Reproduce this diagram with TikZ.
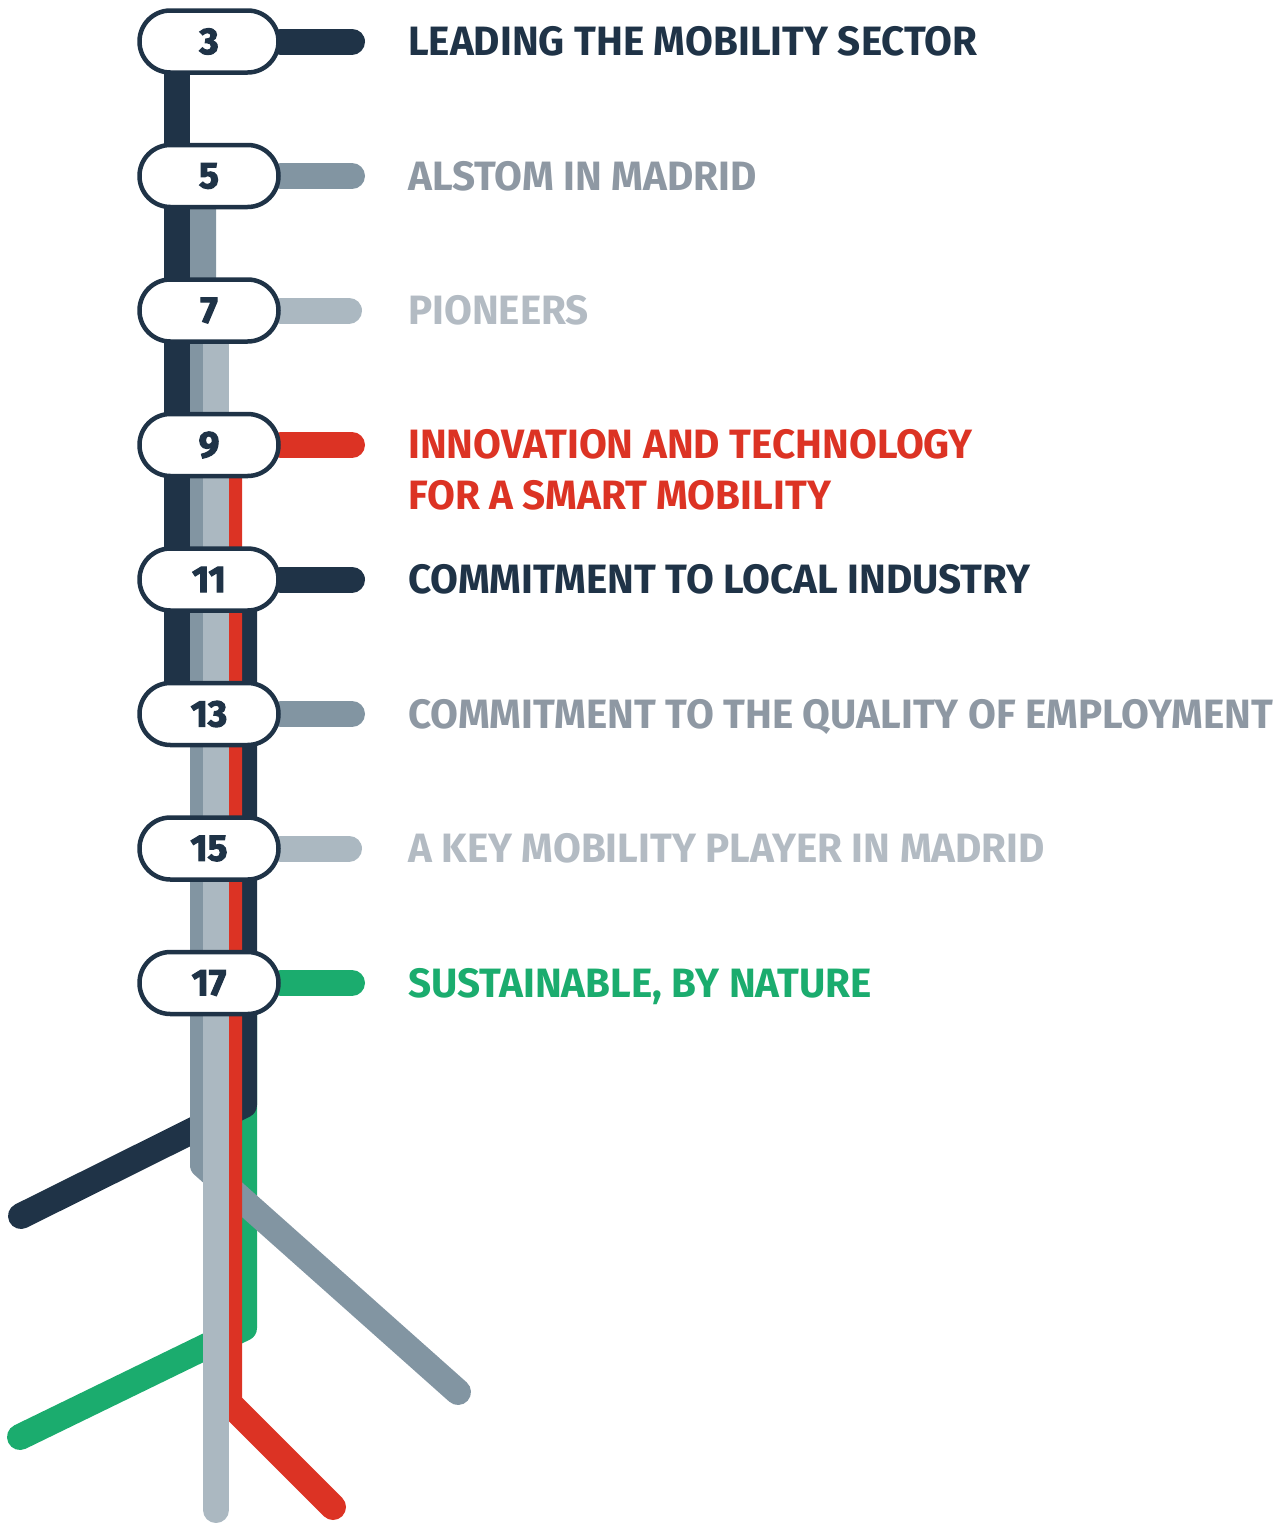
\documentclass[tikz,border=0pt]{standalone}
\usepackage{fontspec}
\newfontfamily\lblfont[FakeStretch=0.985]{Fira Sans}
\newfontfamily\numfont[BoldFeatures={FakeBold=3}]{Fira Sans}
\definecolor{amNavy}{HTML}{1F3347}
\definecolor{amSteel}{HTML}{8295A2}
\definecolor{amSilver}{HTML}{ABB8C1}
\definecolor{amRed}{HTML}{DC3324}
\definecolor{amGreen}{HTML}{1BAC6E}
\definecolor{amSteelTxt}{HTML}{8E98A3}
\definecolor{amSilverTxt}{HTML}{B3BBC3}
\usetikzlibrary{backgrounds}

\tikzset{
  stationpill/.style={draw=amNavy, fill=white, line width=4.5pt, rounded corners=30.9pt,
    minimum width=139pt, minimum height=62pt, inner sep=0pt, text=amNavy,
    font=\numfont\bfseries\fontsize{37}{37}\selectfont},
  railline/.style={line width=26pt, line cap=round, line join=round},
  lbl/.style={anchor=base west, inner sep=0pt, align=left,
    font=\lblfont\bfseries\fontsize{41}{51}\selectfont},
}

\begin{document}
\begin{tikzpicture}[x=1pt, y=-1pt]
  \useasboundingbox (0,0) rectangle (1283,1523);

  % stations
  \node[stationpill] (p3) at (209,41.5) {3};
  \node[stationpill] (p5) at (209,176) {5};
  \node[stationpill] (p7) at (209,310.5) {7};
  \node[stationpill] (p9) at (209,445) {9};
  \node[stationpill] (p11) at (209,579.5) {11};
  \node[stationpill] (p13) at (209,714) {13};
  \node[stationpill] (p15) at (209,848.5) {15};
  \node[stationpill] (p17) at (209,983) {17};

  % stub ends
  \coordinate (e3) at (352,41.5);
  \coordinate (e5) at (352,176);
  \coordinate (e7) at (349,310.5);
  \coordinate (e9) at (352,445);
  \coordinate (e11) at (352,579.5);
  \coordinate (e13) at (352,714);
  \coordinate (e15) at (349,848.5);
  \coordinate (e17) at (352,983);

  % bends and line ends
  \coordinate (b5) at (203,1165);
  \coordinate (t5) at (458,1392);
  \coordinate (t7) at (216,1510);
  \coordinate (b9) at (229,1403);
  \coordinate (t9) at (333,1507);
  \coordinate (b11) at (244,1105);
  \coordinate (t11) at (21,1216);
  \coordinate (b17) at (244,1328);
  \coordinate (t17) at (20,1437);

  \begin{scope}[on background layer]
    % green
    \draw[railline, amGreen] (p17) -- (e17);
    \draw[railline, amGreen] ([xshift=35pt]p17.center) -- (b17) -- (t17);
    % navy (11)
    \draw[railline, amNavy] (p11) -- (e11);
    \draw[railline, amNavy] ([xshift=35pt]p11.center) -- (b11) -- (t11);
    % steel
    \draw[railline, amSteel] (p5) -- (e5);
    \draw[railline, amSteel] (p13) -- (e13);
    \draw[railline, amSteel] ([xshift=-6pt]p5.center) -- (b5) -- (t5);
    % red
    \draw[railline, amRed] (p9) -- (e9);
    \draw[railline, amRed] ([xshift=20pt]p9.center) -- (b9) -- (t9);
    % silver
    \draw[railline, amSilver] (p7) -- (e7);
    \draw[railline, amSilver] (p15) -- (e15);
    \draw[railline, amSilver] ([xshift=7pt]p7.center) -- (t7);
    % navy (3)
    \draw[railline, amNavy] (p3) -- (e3);
    \draw[railline, amNavy] ([xshift=-32pt]p3.center) -- ([xshift=-32pt]p13.center);
  \end{scope}

  % labels
  \node[lbl, text=amNavy] (l3) at (408,55.5) {LEADING THE MOBILITY SECTOR};
  \node[lbl, text=amSteelTxt] (l5) at (408,190) {ALSTOM IN MADRID};
  \node[lbl, text=amSilverTxt] (l7) at (408,324.5) {PIONEERS};
  \node[lbl, text=amRed] (l9) at (408,509) {INNOVATION AND TECHNOLOGY\\FOR A SMART MOBILITY};
  \node[lbl, text=amNavy] (l11) at (408,593.5) {COMMITMENT TO LOCAL INDUSTRY};
  \node[lbl, text=amSteelTxt] (l13) at (408,728) {COMMITMENT TO THE QUALITY OF EMPLOYMENT};
  \node[lbl, text=amSilverTxt] (l15) at (408,862.5) {A KEY MOBILITY PLAYER IN MADRID};
  \node[lbl, text=amGreen] (l17) at (408,997) {SUSTAINABLE, BY NATURE};
\end{tikzpicture}
\end{document}
